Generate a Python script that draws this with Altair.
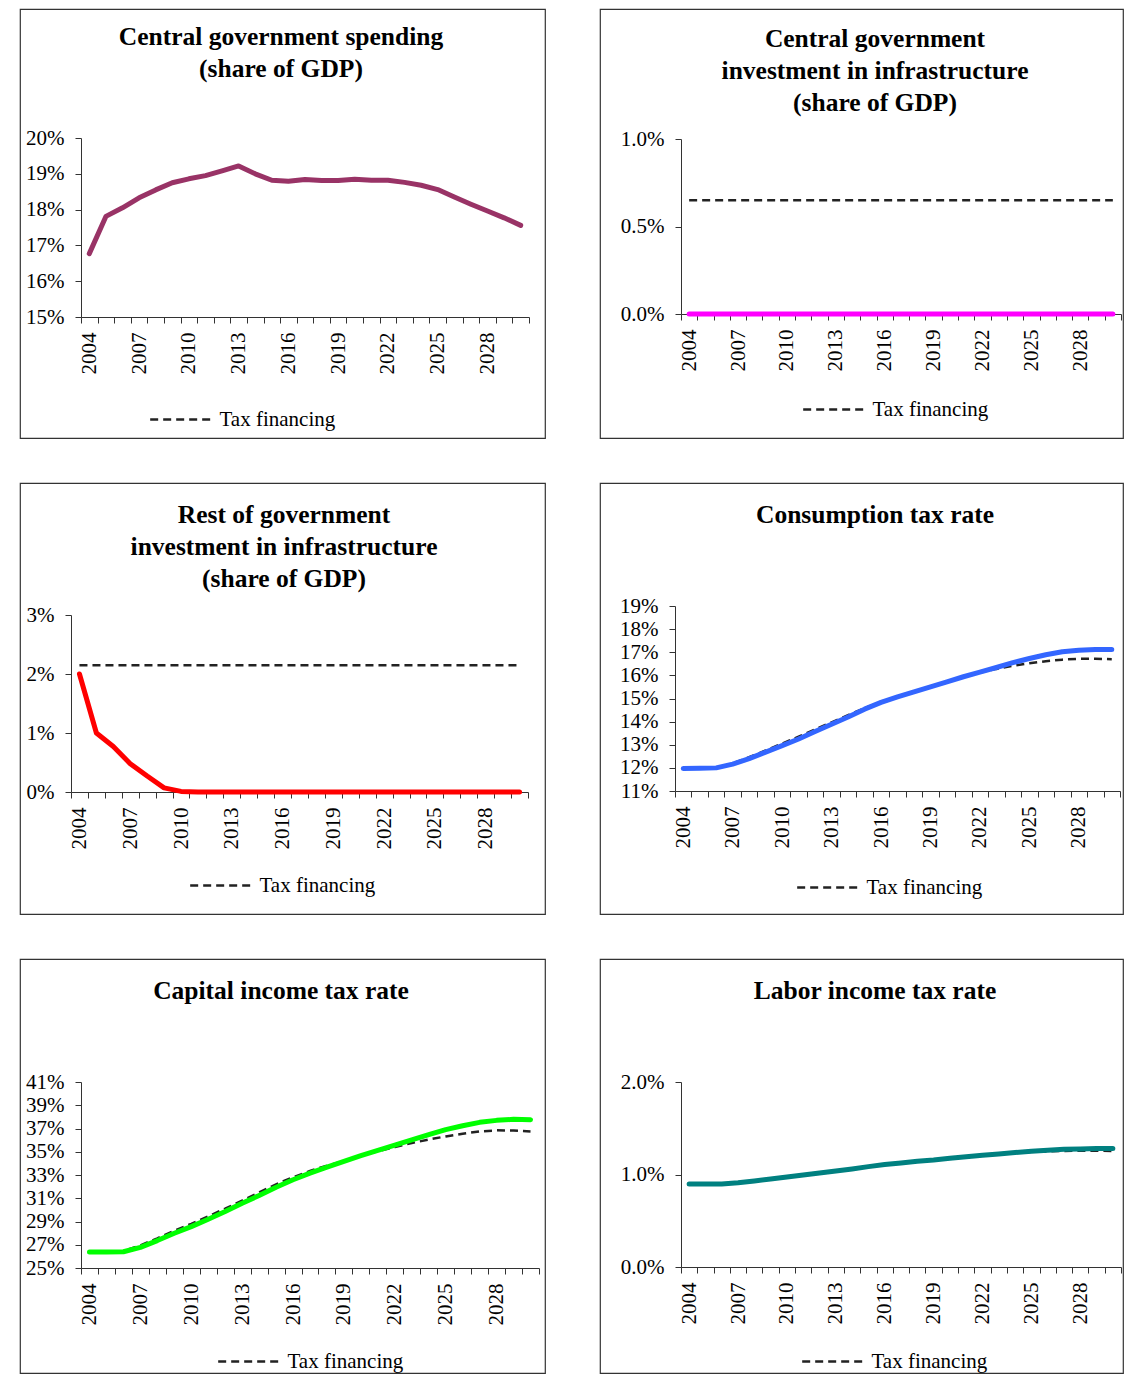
import altair as alt
import pandas as pd

years = list(range(2004, 2031))

cg_spending = [16.77, 17.81, 18.05, 18.33, 18.55, 18.75, 18.86, 18.95, 19.08, 19.22,
               19.00, 18.82, 18.79, 18.84, 18.81, 18.81, 18.85, 18.82, 18.82, 18.76,
               18.68, 18.56, 18.35, 18.15, 17.96, 17.77, 17.56]
cg_spending_tax = [16.77, 17.81, 18.05, 18.33, 18.55, 18.75, 18.86, 18.95, 19.08, 19.22,
                   19.00, 18.82, 18.79, 18.84, 18.81, 18.81, 18.85, 18.82, 18.82, 18.76,
                   18.68, 18.56, 18.35, 18.15, 17.96, 17.77, 17.56]

cg_infra = [0.0, 0.0, 0.0, 0.0, 0.0, 0.0, 0.0, 0.0, 0.0, 0.0, 0.0, 0.0, 0.0, 0.0,
            0.0, 0.0, 0.0, 0.0, 0.0, 0.0, 0.0, 0.0, 0.0, 0.0, 0.0, 0.0, 0.0]
cg_infra_tax = [0.65, 0.65, 0.65, 0.65, 0.65, 0.65, 0.65, 0.65, 0.65, 0.65, 0.65, 0.65,
                0.65, 0.65, 0.65, 0.65, 0.65, 0.65, 0.65, 0.65, 0.65, 0.65, 0.65, 0.65,
                0.65, 0.65, 0.65]

rest_infra = [2.00, 1.00, 0.77, 0.48, 0.27, 0.07, 0.01, 0.0, 0.0, 0.0, 0.0, 0.0, 0.0,
              0.0, 0.0, 0.0, 0.0, 0.0, 0.0, 0.0, 0.0, 0.0, 0.0, 0.0, 0.0, 0.0, 0.0]
rest_infra_tax = [2.15, 2.15, 2.15, 2.15, 2.15, 2.15, 2.15, 2.15, 2.15, 2.15, 2.15, 2.15,
                  2.15, 2.15, 2.15, 2.15, 2.15, 2.15, 2.15, 2.15, 2.15, 2.15, 2.15, 2.15,
                  2.15, 2.15, 2.15]

cons_tax_rate = [11.97, 11.98, 12.00, 12.16, 12.40, 12.68, 12.96, 13.25, 13.57, 13.89,
                 14.20, 14.54, 14.83, 15.07, 15.29, 15.50, 15.72, 15.94, 16.14, 16.34,
                 16.55, 16.73, 16.89, 17.02, 17.09, 17.12, 17.12]
cons_tax_rate_tax = [11.97, 11.98, 12.00, 12.20, 12.46, 12.75, 13.05, 13.35, 13.66, 13.97,
                     14.28, 14.58, 14.86, 15.09, 15.30, 15.50, 15.71, 15.92, 16.12, 16.28,
                     16.42, 16.52, 16.61, 16.68, 16.72, 16.72, 16.70]

cap_tax_rate = [26.38, 26.38, 26.40, 26.78, 27.36, 27.99, 28.56, 29.20, 29.86, 30.57,
                31.24, 31.95, 32.59, 33.16, 33.68, 34.17, 34.66, 35.11, 35.57, 36.03,
                36.47, 36.90, 37.24, 37.53, 37.70, 37.79, 37.76]
cap_tax_rate_tax = [26.38, 26.38, 26.45, 26.95, 27.55, 28.20, 28.80, 29.45, 30.10, 30.80,
                    31.50, 32.20, 32.80, 33.35, 33.80, 34.20, 34.65, 35.05, 35.40, 35.75,
                    36.05, 36.32, 36.55, 36.75, 36.84, 36.83, 36.75]

lab_tax_rate = [0.897, 0.897, 0.898, 0.911, 0.930, 0.951, 0.973, 0.995, 1.016, 1.038,
                1.060, 1.085, 1.107, 1.125, 1.143, 1.157, 1.175, 1.193, 1.208, 1.222,
                1.237, 1.251, 1.262, 1.273, 1.277, 1.280, 1.280]
lab_tax_rate_tax = [0.897, 0.897, 0.898, 0.911, 0.930, 0.951, 0.973, 0.995, 1.016, 1.038,
                    1.060, 1.085, 1.107, 1.125, 1.143, 1.157, 1.175, 1.193, 1.208, 1.222,
                    1.235, 1.245, 1.250, 1.255, 1.256, 1.256, 1.255]

titles = [
    "Central government spending\n(share of GDP)",
    "Central government\ninvestment in infrastructure\n(share of GDP)",
    "Rest of government\ninvestment in infrastructure\n(share of GDP)",
    "Consumption tax rate",
    "Capital income tax rate",
    "Labor income tax rate",
]

FONT = "Liberation Serif"
LEFT_W = 525
RIGHT_W = 523


def panel(title, solid, tax, color, ydom, yticks, ydec, xr, yr,
          leg_x, leg_y, title_xy, box_w, box_h):
    df_tax = pd.DataFrame({"year": years, "value": tax,
                           "series": ["Tax financing"] * len(years)})
    df_sol = pd.DataFrame({"year": years, "value": solid})
    x_enc = alt.X(
        "year:O", bandPosition=0.5,
        scale=alt.Scale(type="band", paddingInner=0, paddingOuter=0, range=list(xr)),
        axis=alt.Axis(title=None, tickBand="extent", labelAngle=270,
                      labelExpr="(datum.value - 2004) % 3 == 0 ? datum.label : ''",
                      offset=yr[0] - box_h, labelPadding=9, tickSize=6,
                      labelOverlap=False, grid=False, labelFont=FONT,
                      labelFontSize=21, labelColor="black", tickColor="#333",
                      domainColor="#333", minExtent=0))
    y_enc = alt.Y(
        "value:Q",
        scale=alt.Scale(domain=ydom, range=list(yr), nice=False, zero=False),
        axis=alt.Axis(title=None, values=yticks,
                      labelExpr="format(datum.value, '.%df') + '%%'" % ydec,
                      offset=-xr[0], labelPadding=11, tickSize=6, grid=False,
                      labelFont=FONT, labelFontSize=21, labelColor="black",
                      tickColor="#333", domainColor="#333", minExtent=0))
    dashed = alt.Chart(df_tax).mark_line(strokeWidth=2.5, color="#222").encode(
        x=x_enc, y=y_enc,
        strokeDash=alt.StrokeDash(
            "series:N",
            scale=alt.Scale(domain=["Tax financing"], range=[[8, 5]]),
            legend=alt.Legend(title=None, orient="none", legendX=leg_x,
                              legendY=leg_y, symbolType="stroke",
                              symbolSize=3800, symbolStrokeWidth=2.5,
                              symbolStrokeColor="#222", symbolDash=[6, 5],
                              labelFont=FONT, labelFontSize=21,
                              labelColor="black", labelOffset=6, padding=0)))
    solid_line = alt.Chart(df_sol).mark_line(strokeWidth=5, color=color,
                                             strokeCap="round",
                                             strokeJoin="round").encode(
        x=x_enc, y=y_enc)
    head = alt.Chart(pd.DataFrame({"t": [title]})).mark_text(
        font=FONT, fontSize=25.5, fontWeight="bold", lineHeight=32,
        baseline="top", align="center", lineBreak="\n", color="black"
    ).encode(text="t:N", x=alt.value(title_xy[0]), y=alt.value(title_xy[1]))
    return alt.layer(dashed, solid_line, head).properties(width=box_w, height=box_h)


p1 = panel(titles[0], cg_spending, cg_spending_tax, "#993366",
           [15, 20], [15, 16, 17, 18, 19, 20], 0,
           (61, 509), (308, 129), 128.5, 378, (261, 16), LEFT_W, 429)
p2 = panel(titles[1], cg_infra, cg_infra_tax, "#FF00FF",
           [0, 1], [0, 0.5, 1.0], 1,
           (81, 521), (305, 130), 201.5, 368, (275, 18), RIGHT_W, 429)
p3 = panel(titles[2], rest_infra, rest_infra_tax, "#FF0000",
           [0, 3], [0, 1, 2, 3], 0,
           (51, 508), (309, 132), 168.5, 370, (264, 20), LEFT_W, 431)
p4 = panel(titles[3], cons_tax_rate, cons_tax_rate_tax, "#3366FF",
           [11, 19], [11, 12, 13, 14, 15, 16, 17, 18, 19], 0,
           (75, 520), (308, 123), 195.5, 372, (275, 20), RIGHT_W, 431)
p5 = panel(titles[4], cap_tax_rate, cap_tax_rate_tax, "#00FF00",
           [25, 41], [25, 27, 29, 31, 33, 35, 37, 39, 41], 0,
           (61, 519), (309, 123), 196.5, 370, (261, 20), LEFT_W, 414)
p6 = panel(titles[5], lab_tax_rate, lab_tax_rate_tax, "#008080",
           [0, 2], [0, 1.0, 2.0], 1,
           (81, 521), (308, 123), 200.5, 370, (275, 20), RIGHT_W, 414)

chart = alt.concat(
    p1, p2, p3, p4, p5, p6, columns=2, bounds="flush",
    spacing=alt.RowColnumber(row=45, column=55)
).resolve_scale(
    strokeDash="independent"
).properties(
    padding=0, background="white"
).configure_view(stroke="#333", strokeWidth=1.2)

chart.save("out.html", embed_options={"renderer": "svg", "actions": False})
